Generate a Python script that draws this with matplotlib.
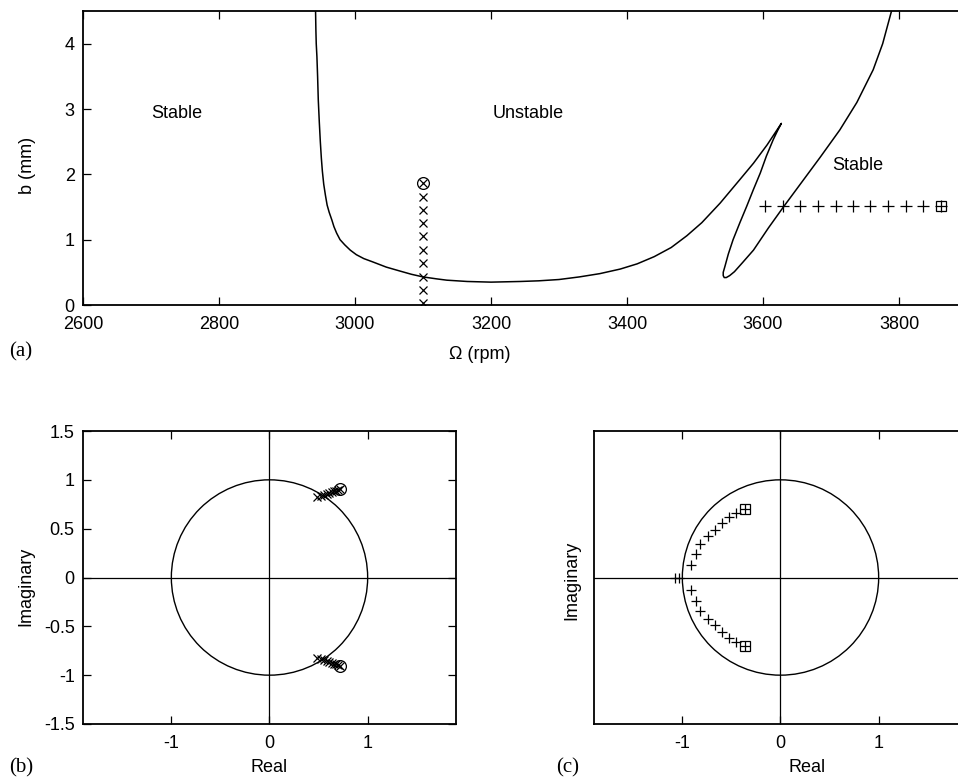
import matplotlib
matplotlib.use("Agg")
import matplotlib.pyplot as plt
from matplotlib.patches import Circle

plt.rcParams['font.family'] = ['Liberation Sans', 'DejaVu Sans']
plt.rcParams['axes.unicode_minus'] = False

# ---- stability boundary: spindle speed (rpm) vs. limiting chip width (mm) ----
lobe_rpm = [2942, 2942.5, 2943, 2944, 2945, 2946, 2947.5, 2949, 2950.5, 2952,
            2954, 2956.5, 2959, 2962, 2966, 2969, 2973, 2978, 2985, 2993,
            3002, 3013, 3026, 3046, 3066, 3083, 3100, 3120, 3135, 3165,
            3200, 3243, 3270, 3300, 3330, 3360, 3390, 3415, 3440, 3465,
            3488, 3510, 3537, 3566, 3586, 3606, 3627,
            3621, 3615, 3605, 3596, 3586, 3576, 3566, 3556, 3549, 3544,
            3541.5, 3541.5, 3543, 3546, 3551, 3558, 3570, 3586, 3608, 3630,
            3657, 3684, 3713, 3738, 3762, 3776, 3789]
lobe_b = [4.5, 4.2, 4.0, 3.8, 3.5, 3.14, 2.8, 2.5, 2.25, 2.05,
          1.85, 1.68, 1.53, 1.42, 1.30, 1.2, 1.10, 1.0, 0.92, 0.84,
          0.77, 0.71, 0.66, 0.58, 0.52, 0.47, 0.43, 0.40, 0.38, 0.36,
          0.35, 0.36, 0.37, 0.39, 0.43, 0.48, 0.55, 0.63, 0.74, 0.88,
          1.06, 1.26, 1.56, 1.92, 2.17, 2.45, 2.78,
          2.66, 2.53, 2.28, 2.02, 1.77, 1.51, 1.26, 1.00, 0.78, 0.59,
          0.50, 0.45, 0.42, 0.42, 0.45, 0.51, 0.65, 0.84, 1.18, 1.50,
          1.88, 2.26, 2.68, 3.10, 3.60, 4.0, 4.5]

# ---- test points: increasing chip width at 3100 rpm ----
unstable_rpm = [3100, 3100, 3100, 3100, 3100, 3100, 3100, 3100, 3100, 3100]
unstable_b = [0.03, 0.23, 0.43, 0.64, 0.84, 1.05, 1.25, 1.45, 1.65, 1.865]

# ---- test points: increasing spindle speed at b = 1.5 mm ----
stable_rpm = [3603, 3629, 3655, 3681, 3707, 3733, 3758, 3784, 3810, 3836, 3862]
stable_b = [1.51, 1.51, 1.51, 1.51, 1.51, 1.51, 1.51, 1.51, 1.51, 1.51, 1.51]

# ---- eigenvalues for the 3100 rpm sweep ----
eig_b_re = [0.48, 0.52, 0.555, 0.585, 0.61, 0.635, 0.66, 0.68, 0.70, 0.72]
eig_b_im = [0.82, 0.835, 0.848, 0.858, 0.866, 0.874, 0.882, 0.89, 0.897, 0.905]

# ---- eigenvalues for the b = 1.5 mm sweep ----
eig_c_re = [-0.908, -0.865, -0.817, -0.74, -0.67, -0.60, -0.525, -0.45, -0.357]
eig_c_im = [0.13, 0.24, 0.34, 0.42, 0.49, 0.56, 0.615, 0.66, 0.70]
eig_c_real_axis = [-1.07, -1.035]

W, H = 958, 779
fig = plt.figure(figsize=(W / 100, H / 100), dpi=100)


def box(l, t, r, b):
    return [l / W, 1 - b / H, (r - l) / W, (b - t) / H]


FS = 13
SPINE_LW = 1.3
SERIF = ['Liberation Serif', 'DejaVu Serif']


def style(ax):
    for s in ax.spines.values():
        s.set_linewidth(SPINE_LW)
    ax.tick_params(direction='in', length=6, width=0.9, top=True, right=True,
                   labelsize=FS, pad=6)
    ax.tick_params(axis='x', pad=8)


# ---------------- (a) stability lobe diagram ----------------
ax_a = fig.add_axes(box(83, 11, 967, 305))
style(ax_a)
ax_a.plot(lobe_rpm, lobe_b, color='k', lw=1.1)
ax_a.plot(unstable_rpm, unstable_b, 'x', ms=6, mec='k', mew=0.9)
ax_a.plot(unstable_rpm[-1:], unstable_b[-1:], 'o', ms=8.5, mfc='none', mec='k', mew=0.9)
ax_a.plot(stable_rpm, stable_b, '+', ms=8, mec='k', mew=0.9)
ax_a.plot(stable_rpm[-1:], stable_b[-1:], 's', ms=7, mfc='none', mec='k', mew=0.9)
ax_a.set_xlim(2600, 3900)
ax_a.set_ylim(0, 4.5)
ax_a.set_xticks([2600, 2800, 3000, 3200, 3400, 3600, 3800])
ax_a.set_yticks([0, 1, 2, 3, 4])
ax_a.text(2738, 2.93, 'Stable', fontsize=FS, ha='center', va='center')
ax_a.text(3254, 2.93, 'Unstable', fontsize=FS, ha='center', va='center')
ax_a.text(3739, 2.13, 'Stable', fontsize=FS, ha='center', va='center')
fig.text(27 / W, 1 - 165 / H, 'b (mm)', fontsize=FS, rotation=90,
         ha='center', va='center')
fig.text(480 / W, 1 - 355 / H, 'Ω (rpm)', fontsize=FS, ha='center', va='center')
fig.text(21 / W, 1 - 352 / H, '(a)', fontsize=15, family=SERIF,
         ha='center', va='center')


def zplane(ax):
    style(ax)
    ax.add_patch(Circle((0, 0), 1, fill=False, ec='k', lw=1.0))
    ax.axhline(0, color='k', lw=0.9)
    ax.axvline(0, color='k', lw=0.9)
    ax.set_xlim(-1.9, 1.9)
    ax.set_ylim(-1.5, 1.5)
    ax.set_xticks([-1, 0, 1])


# ---------------- (b) eigenvalues, 3100 rpm ----------------
ax_b = fig.add_axes(box(83, 431, 456, 724))
zplane(ax_b)
ax_b.set_yticks([-1.5, -1, -0.5, 0, 0.5, 1, 1.5])
ax_b.set_yticklabels(['-1.5', '-1', '-0.5', '0', '0.5', '1', '1.5'])
ax_b.set_xticklabels(['-1', '0', '1'])
for sgn in (1, -1):
    im = [sgn * v for v in eig_b_im]
    ax_b.plot(eig_b_re, im, 'x', ms=5.5, mec='k', mew=0.9)
    ax_b.plot(eig_b_re[-1:], im[-1:], 'o', ms=8.5, mfc='none', mec='k', mew=0.9)
fig.text(26 / W, 1 - 586 / H, 'Imaginary', fontsize=FS, rotation=90,
         ha='center', va='center')
fig.text(269 / W, 1 - 767 / H, 'Real', fontsize=FS, ha='center', va='center')
fig.text(21 / W, 1 - 768 / H, '(b)', fontsize=15, family=SERIF,
         ha='center', va='center')

# ---------------- (c) eigenvalues, b = 1.5 mm ----------------
ax_c = fig.add_axes(box(594, 431, 967, 724))
zplane(ax_c)
ax_c.set_yticks([])
ax_c.set_xticklabels(['-1', '0', '1'])
for sgn in (1, -1):
    im = [sgn * v for v in eig_c_im]
    ax_c.plot(eig_c_re, im, '+', ms=7, mec='k', mew=0.9)
    ax_c.plot(eig_c_re[-1:], im[-1:], 's', ms=7, mfc='none', mec='k', mew=0.9)
ax_c.plot(eig_c_real_axis, [0, 0], '+', ms=7, mec='k', mew=0.9)
fig.text(572 / W, 1 - 580 / H, 'Imaginary', fontsize=FS, rotation=90,
         ha='center', va='center')
fig.text(807 / W, 1 - 767 / H, 'Real', fontsize=FS, ha='center', va='center')
fig.text(568 / W, 1 - 768 / H, '(c)', fontsize=15, family=SERIF,
         ha='center', va='center')

fig.savefig('out.png', dpi=100)
